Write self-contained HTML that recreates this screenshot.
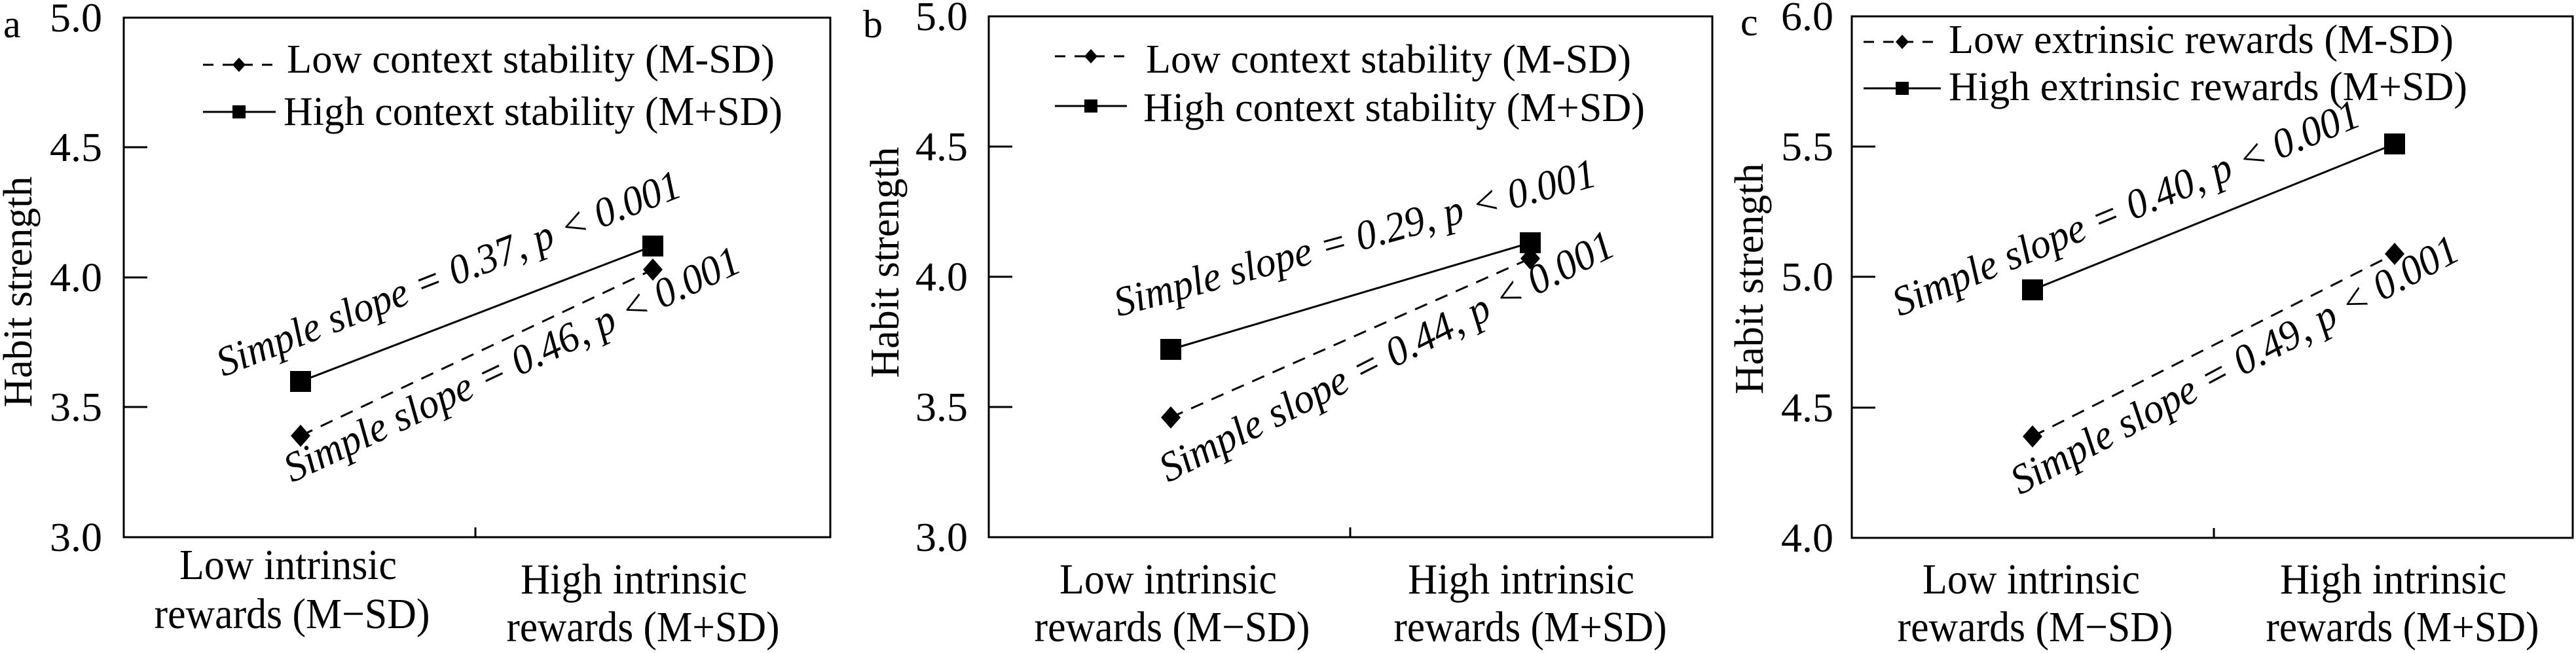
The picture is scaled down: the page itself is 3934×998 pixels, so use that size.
<!DOCTYPE html>
<html><head><meta charset="utf-8"><style>
html,body{margin:0;padding:0;background:#fff;}
svg{display:block;}
text{font-family:"Liberation Serif","Times New Roman","DejaVu Serif",serif;fill:#000;}
</style></head><body>
<svg width="3934" height="998" viewBox="0 0 3934 998" xmlns="http://www.w3.org/2000/svg" font-family="Liberation Serif, Times New Roman, DejaVu Serif, serif">
<defs>
<g id="sq"><rect x="-16" y="-16" width="32" height="32" fill="#000"/></g>
<g id="dm"><polygon points="0,-17 15,0 0,17 -15,0" fill="#000"/></g>
<g id="sqs"><rect x="-10" y="-10" width="20" height="20" fill="#000"/></g>
<g id="dms"><polygon points="0,-11 10,0 0,11 -10,0" fill="#000"/></g>
</defs>

<!-- Panel a -->
<g>
<text x="5" y="57" font-size="60">a</text>
<rect x="189" y="27" width="1079" height="794" fill="none" stroke="#000" stroke-width="3"/>
<g stroke="#000" stroke-width="3">
<line x1="189" y1="225" x2="225" y2="225"/><line x1="189" y1="424" x2="225" y2="424"/><line x1="189" y1="622" x2="225" y2="622"/>
<line x1="726" y1="821" x2="726" y2="806"/>
</g>
<g font-size="62" text-anchor="end">
<text x="156" y="48" textLength="80" lengthAdjust="spacingAndGlyphs">5.0</text><text x="156" y="246" textLength="80" lengthAdjust="spacingAndGlyphs">4.5</text><text x="156" y="445" textLength="80" lengthAdjust="spacingAndGlyphs">4.0</text><text x="156" y="643" textLength="80" lengthAdjust="spacingAndGlyphs">3.5</text><text x="156" y="842" textLength="80" lengthAdjust="spacingAndGlyphs">3.0</text>
</g>
<text transform="translate(48,446) rotate(-90)" font-size="62" text-anchor="middle" textLength="353" lengthAdjust="spacingAndGlyphs">Habit strength</text>
<g font-size="66" text-anchor="middle">
<text x="440" y="885" textLength="332" lengthAdjust="spacingAndGlyphs">Low intrinsic</text><text x="446" y="960" textLength="421" lengthAdjust="spacingAndGlyphs">rewards (M−SD)</text>
<text x="968" y="907" textLength="346" lengthAdjust="spacingAndGlyphs">High intrinsic</text><text x="982" y="980" textLength="417" lengthAdjust="spacingAndGlyphs">rewards (M+SD)</text>
</g>
<line x1="310" y1="99" x2="421" y2="99" stroke="#000" stroke-width="3" stroke-dasharray="16,14"/><use href="#dms" x="365" y="99"/>
<line x1="310" y1="171" x2="421" y2="171" stroke="#000" stroke-width="3"/><use href="#sqs" x="365" y="171"/>
<text x="438" y="111" font-size="62" textLength="745" lengthAdjust="spacingAndGlyphs">Low context stability (M-SD)</text>
<text x="433" y="191" font-size="62" textLength="762" lengthAdjust="spacingAndGlyphs">High context stability (M+SD)</text>
<line x1="459" y1="583" x2="997" y2="376" stroke="#000" stroke-width="3"/>
<line x1="459" y1="666" x2="997" y2="412" stroke="#000" stroke-width="3" stroke-dasharray="20,14"/>
<use href="#sq" x="459" y="583"/><use href="#sq" x="997" y="376"/>
<use href="#dm" x="459" y="666"/><use href="#dm" x="997" y="412"/>
<text transform="translate(341,576) rotate(-21.5)" font-size="64" font-style="italic" textLength="756" lengthAdjust="spacingAndGlyphs">Simple slope = 0.37, p &lt; 0.001</text>
<text transform="translate(446,738) rotate(-25.2)" font-size="64" font-style="italic" textLength="762" lengthAdjust="spacingAndGlyphs">Simple slope = 0.46, p &lt; 0.001</text>
</g>

<!-- Panel b -->
<g>
<text x="1318" y="57" font-size="60">b</text>
<rect x="1510" y="25" width="1105" height="796" fill="none" stroke="#000" stroke-width="3"/>
<g stroke="#000" stroke-width="3">
<line x1="1510" y1="224" x2="1546" y2="224"/><line x1="1510" y1="423" x2="1546" y2="423"/><line x1="1510" y1="622" x2="1546" y2="622"/>
<line x1="2062" y1="821" x2="2062" y2="806"/>
</g>
<g font-size="62" text-anchor="end">
<text x="1478" y="46" textLength="80" lengthAdjust="spacingAndGlyphs">5.0</text><text x="1478" y="245" textLength="80" lengthAdjust="spacingAndGlyphs">4.5</text><text x="1478" y="444" textLength="80" lengthAdjust="spacingAndGlyphs">4.0</text><text x="1478" y="643" textLength="80" lengthAdjust="spacingAndGlyphs">3.5</text><text x="1478" y="842" textLength="80" lengthAdjust="spacingAndGlyphs">3.0</text>
</g>
<text transform="translate(1372,401) rotate(-90)" font-size="62" text-anchor="middle" textLength="353" lengthAdjust="spacingAndGlyphs">Habit strength</text>
<g font-size="66" text-anchor="middle">
<text x="1784" y="907" textLength="332" lengthAdjust="spacingAndGlyphs">Low intrinsic</text><text x="1790" y="980" textLength="421" lengthAdjust="spacingAndGlyphs">rewards (M−SD)</text>
<text x="2323" y="907" textLength="346" lengthAdjust="spacingAndGlyphs">High intrinsic</text><text x="2337" y="980" textLength="417" lengthAdjust="spacingAndGlyphs">rewards (M+SD)</text>
</g>
<line x1="1611" y1="86" x2="1721" y2="86" stroke="#000" stroke-width="3" stroke-dasharray="16,14"/><use href="#dms" x="1666" y="86"/>
<line x1="1611" y1="162" x2="1721" y2="162" stroke="#000" stroke-width="3"/><use href="#sqs" x="1666" y="162"/>
<text x="1750" y="111" font-size="62" textLength="741" lengthAdjust="spacingAndGlyphs">Low context stability (M-SD)</text>
<text x="1746" y="185" font-size="62" textLength="766" lengthAdjust="spacingAndGlyphs">High context stability (M+SD)</text>
<line x1="1788" y1="534" x2="2337" y2="371" stroke="#000" stroke-width="3"/>
<line x1="1788" y1="638" x2="2337" y2="395" stroke="#000" stroke-width="3" stroke-dasharray="20,14"/>
<use href="#sq" x="1788" y="534"/><use href="#sq" x="2337" y="371"/>
<use href="#dm" x="1788" y="638"/><use href="#dm" x="2337" y="395"/>
<text transform="translate(1708,484) rotate(-15.3)" font-size="64" font-style="italic" textLength="760" lengthAdjust="spacingAndGlyphs">Simple slope = 0.29, p &lt; 0.001</text>
<text transform="translate(1784,738) rotate(-27)" font-size="64" font-style="italic" textLength="770" lengthAdjust="spacingAndGlyphs">Simple slope = 0.44, p &lt; 0.001</text>
</g>

<!-- Panel c -->
<g>
<text x="2658" y="54" font-size="60">c</text>
<rect x="2828" y="25" width="1101" height="797" fill="none" stroke="#000" stroke-width="3"/>
<g stroke="#000" stroke-width="3">
<line x1="2828" y1="224" x2="2864" y2="224"/><line x1="2828" y1="423" x2="2864" y2="423"/><line x1="2828" y1="623" x2="2864" y2="623"/>
<line x1="3381" y1="822" x2="3381" y2="807"/>
</g>
<g font-size="62" text-anchor="end">
<text x="2800" y="46" textLength="80" lengthAdjust="spacingAndGlyphs">6.0</text><text x="2800" y="245" textLength="80" lengthAdjust="spacingAndGlyphs">5.5</text><text x="2800" y="444" textLength="80" lengthAdjust="spacingAndGlyphs">5.0</text><text x="2800" y="644" textLength="80" lengthAdjust="spacingAndGlyphs">4.5</text><text x="2800" y="843" textLength="80" lengthAdjust="spacingAndGlyphs">4.0</text>
</g>
<text transform="translate(2692,426) rotate(-90)" font-size="62" text-anchor="middle" textLength="353" lengthAdjust="spacingAndGlyphs">Habit strength</text>
<g font-size="66" text-anchor="middle">
<text x="3102" y="907" textLength="332" lengthAdjust="spacingAndGlyphs">Low intrinsic</text><text x="3108" y="980" textLength="421" lengthAdjust="spacingAndGlyphs">rewards (M−SD)</text>
<text x="3655" y="907" textLength="346" lengthAdjust="spacingAndGlyphs">High intrinsic</text><text x="3669" y="980" textLength="417" lengthAdjust="spacingAndGlyphs">rewards (M+SD)</text>
</g>
<line x1="2846" y1="64" x2="2964" y2="64" stroke="#000" stroke-width="3" stroke-dasharray="16,14"/><use href="#dms" x="2905" y="64"/>
<line x1="2846" y1="135" x2="2964" y2="135" stroke="#000" stroke-width="3"/><use href="#sqs" x="2905" y="135"/>
<text x="2976" y="81" font-size="62" textLength="771" lengthAdjust="spacingAndGlyphs">Low extrinsic rewards (M-SD)</text>
<text x="2976" y="153" font-size="62" textLength="792" lengthAdjust="spacingAndGlyphs">High extrinsic rewards (M+SD)</text>
<line x1="3104" y1="443" x2="3657" y2="220" stroke="#000" stroke-width="3"/>
<line x1="3104" y1="667" x2="3657" y2="388" stroke="#000" stroke-width="3" stroke-dasharray="20,14"/>
<use href="#sq" x="3104" y="443"/><use href="#sq" x="3657" y="220"/>
<use href="#dm" x="3104" y="667"/><use href="#dm" x="3657" y="388"/>
<text transform="translate(2901,484) rotate(-22.5)" font-size="64" font-style="italic" textLength="766" lengthAdjust="spacingAndGlyphs">Simple slope = 0.40, p &lt; 0.001</text>
<text transform="translate(3085,757) rotate(-28.2)" font-size="64" font-style="italic" textLength="766" lengthAdjust="spacingAndGlyphs">Simple slope = 0.49, p &lt; 0.001</text>
</g>
</svg>
</body></html>
